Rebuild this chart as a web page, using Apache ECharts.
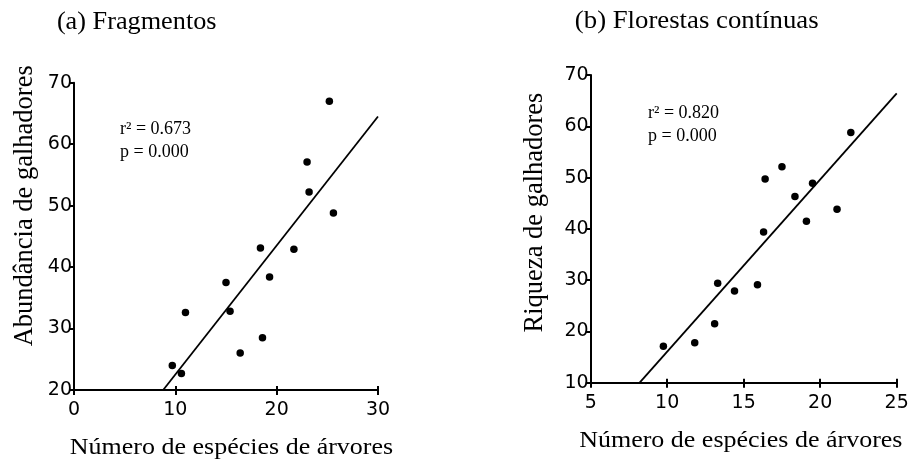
<!DOCTYPE html>
<html>
<head>
<meta charset="utf-8">
<script src="https://cdn.jsdelivr.net/npm/echarts@6/dist/echarts.min.js"></script>
<style>
  html, body { margin: 0; padding: 0; background: #fff; }
  #chart { width: 917px; height: 468px; }
</style>
</head>
<body>
<div id="chart"></div>
<script>
// (a) Fragmentos
var fragX = [25.2, 23.0, 23.2, 25.6, 18.4, 21.7, 19.3, 15.0, 15.4, 11.0, 16.4, 18.6, 9.7, 10.6];
var fragY = [67.0, 57.1, 52.2, 48.8, 43.1, 42.9, 38.4, 37.5, 32.8, 32.6, 26.0, 28.5, 24.0, 22.7];
var fragFitX = [8.8, 30];
var fragFitY = [20, 64.5];

// (b) Florestas contínuas
var contX = [22.0, 17.5, 16.4, 19.5, 18.35, 21.1, 19.1, 16.3, 13.3, 15.9, 14.4, 13.1, 11.8, 9.75];
var contY = [58.8, 52.1, 49.7, 48.9, 46.3, 43.8, 41.5, 39.4, 29.4, 29.1, 27.9, 21.5, 17.8, 17.1];
var contFitX = [8.2, 25];
var contFitY = [10, 66.4];

var titles = ['(a) Fragmentos', '(b) Florestas contínuas'];
var xNames = ['Número de espécies de árvores', 'Número de espécies de árvores'];
var yNames = ['Abundância de galhadores', 'Riqueza de galhadores'];
var stats = [['r² = 0.673', 'p = 0.000'], ['r² = 0.820', 'p = 0.000']];

function pairs(xs, ys) {
  var out = [];
  for (var i = 0; i < xs.length; i++) out.push([xs[i], ys[i]]);
  return out;
}

var serif = '"Liberation Serif", "Times New Roman", serif';
var sans = '"DejaVu Sans", Arial, sans-serif';

function xAxisMain(grid, min, max, step) {
  return {
    type: 'value', gridIndex: grid, min: min, max: max, interval: step,
    splitLine: { show: false },
    axisLine: { show: true, onZero: false, lineStyle: { color: '#000', width: 2 } },
    axisTick: { show: true, length: 5, lineStyle: { color: '#000', width: 2 } },
    axisLabel: { margin: 11, color: '#000', fontSize: 19, fontFamily: sans }
  };
}
// second copy only to draw the inner half of the x ticks
function xAxisInner(grid, min, max, step) {
  return {
    type: 'value', gridIndex: grid, min: min, max: max, interval: step,
    position: 'bottom',
    splitLine: { show: false },
    axisLine: { show: false },
    axisTick: { show: true, inside: true, length: 4, lineStyle: { color: '#000', width: 2 } },
    axisLabel: { show: false }
  };
}
function yAxisMain(grid, min, max, step) {
  return {
    type: 'value', gridIndex: grid, min: min, max: max, interval: step,
    splitLine: { show: false },
    axisLine: { show: true, onZero: false, lineStyle: { color: '#000', width: 2 } },
    axisTick: { show: true, length: 5, lineStyle: { color: '#000', width: 2 } },
    axisLabel: { margin: 2, color: '#000', fontSize: 19, fontFamily: sans }
  };
}

function txt(x, y, text, size, opts) {
  opts = opts || {};
  return {
    type: 'text', x: x, y: y,
    rotation: opts.rotation || 0,
    scaleX: opts.scaleX || 1,
    silent: true,
    style: {
      text: text, fill: '#000', fontSize: size, fontFamily: serif,
      textAlign: opts.align || 'center', align: opts.align || 'center',
      textVerticalAlign: 'middle', verticalAlign: 'middle'
    }
  };
}

var chart = echarts.init(document.getElementById('chart'));

chart.setOption({
  animation: false,
  backgroundColor: '#fff',
  grid: [
    { left: 74, top: 82.7, width: 304, height: 307.3, outerBoundsMode: 'none', containLabel: false },
    { left: 590.7, top: 75, width: 306, height: 307.7, outerBoundsMode: 'none', containLabel: false }
  ],
  xAxis: [
    xAxisMain(0, 0, 30, 10),
    xAxisMain(1, 5, 25, 5),
    xAxisInner(0, 0, 30, 10),
    xAxisInner(1, 5, 25, 5)
  ],
  yAxis: [
    yAxisMain(0, 20, 70, 10),
    yAxisMain(1, 10, 70, 10)
  ],
  series: [
    {
      type: 'line', xAxisIndex: 0, yAxisIndex: 0,
      data: pairs(fragFitX, fragFitY), symbol: 'none', clip: false,
      lineStyle: { color: '#000', width: 1.8 }
    },
    {
      type: 'scatter', xAxisIndex: 0, yAxisIndex: 0,
      data: pairs(fragX, fragY), symbolSize: 7.5,
      itemStyle: { color: '#000', opacity: 1 }
    },
    {
      type: 'line', xAxisIndex: 1, yAxisIndex: 1,
      data: pairs(contFitX, contFitY), symbol: 'none', clip: false,
      lineStyle: { color: '#000', width: 1.8 }
    },
    {
      type: 'scatter', xAxisIndex: 1, yAxisIndex: 1,
      data: pairs(contX, contY), symbolSize: 7.5,
      itemStyle: { color: '#000', opacity: 1 }
    }
  ],
  graphic: [
    txt(136.7, 22, titles[0], 25, { scaleX: 1.05 }),
    txt(696.7, 21.5, titles[1], 25, { scaleX: 1.07 }),
    txt(231.5, 447.5, xNames[0], 23, { scaleX: 1.13 }),
    txt(740.8, 441, xNames[1], 23, { scaleX: 1.13 }),
    txt(25, 205.8, yNames[0], 26.5, { rotation: Math.PI / 2 }),
    txt(535, 212.5, yNames[1], 26.5, { rotation: Math.PI / 2 }),
    txt(120, 129.5, stats[0][0], 18, { align: 'left' }),
    txt(120, 152, stats[0][1], 18, { align: 'left' }),
    txt(648, 113, stats[1][0], 18, { align: 'left' }),
    txt(648, 136.5, stats[1][1], 18, { align: 'left' })
  ]
});
</script>
</body>
</html>
